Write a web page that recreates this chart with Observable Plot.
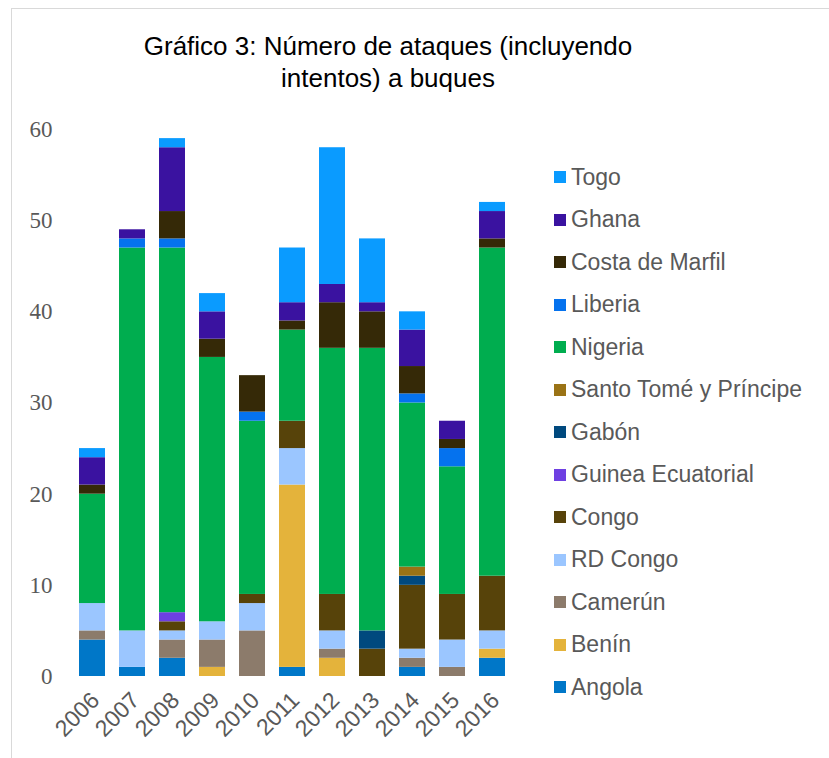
<!DOCTYPE html>
<html>
<head>
<meta charset="utf-8">
<script src="https://cdn.jsdelivr.net/npm/d3@7"></script>
<script src="https://cdn.jsdelivr.net/npm/@observablehq/plot@0.6"></script>
<style>
  html, body { margin: 0; padding: 0; background: #fff; }
  #wrap { position: relative; width: 829px; height: 758px; overflow: hidden; background: #fff; }
  #frame { position: absolute; left: 11px; top: 8px; right: -10px; bottom: -10px; border-left: 1.5px solid #D9D9D9; border-top: 1.5px solid #D9D9D9; }
  #title { position: absolute; left: 0; width: 776px; top: 30px; text-align: center; font-family: "Liberation Sans", Arial, sans-serif; font-size: 26px; line-height: 32px; color: #000; white-space: nowrap; }
  #chart { position: absolute; left: 0; top: 0; }
  #legend { position: absolute; left: 554px; top: 0; font-family: "Liberation Sans", Arial, sans-serif; font-size: 23px; color: #595959; }
  .item { position: absolute; left: 0; height: 30px; display: flex; align-items: center; white-space: nowrap; }
  .sw { width: 12px; height: 12px; margin-right: 5px; flex: none; }
</style>
</head>
<body>
<div id="wrap">
  <div id="frame"></div>
  <div id="title">Gráfico 3: Número de ataques (incluyendo<br>intentos) a buques</div>
  <div id="chart"></div>
  <div id="legend"></div>
</div>
<script>
const years = ["2006","2007","2008","2009","2010","2011","2012","2013","2014","2015","2016"];
const countries = ["Angola","Benín","Camerún","RD Congo","Congo","Guinea Ecuatorial","Gabón","Santo Tomé y Príncipe","Nigeria","Liberia","Costa de Marfil","Ghana","Togo"];
const colors = ["#0077C8","#E4B33B","#8C7B6B","#9BC6FF","#57430A","#6E40E2","#00497E","#9A7315","#00AD4F","#0572EE","#352907","#3A12A0","#0A9BFF"];

const angola   = [4,1,2,0,0,1,0,0,1,0,2];
const benin    = [0,0,0,1,0,20,2,0,0,0,1];
const camerun  = [1,0,2,3,5,0,1,0,1,1,0];
const rdCongo  = [3,4,1,2,3,4,2,0,1,3,2];
const congo    = [0,0,1,0,1,3,4,3,7,5,6];
const guineaEc = [0,0,1,0,0,0,0,0,0,0,0];
const gabon    = [0,0,0,0,0,0,0,2,1,0,0];
const santoTome= [0,0,0,0,0,0,0,0,1,0,0];
const nigeria  = [12,42,40,29,19,10,27,31,18,14,36];
const liberia  = [0,1,1,0,1,0,0,0,1,2,0];
const costaMarfil = [1,0,3,2,4,1,5,4,3,1,1];
const ghana    = [3,1,7,3,0,2,2,1,4,2,3];
const togo     = [1,0,1,2,0,6,15,7,2,0,1];
const yTicks = [0,10,20,30,40,50,60];

const series = [angola,benin,camerun,rdCongo,congo,guineaEc,gabon,santoTome,nigeria,liberia,costaMarfil,ghana,togo];
const data = [];
countries.forEach((c, i) => {
  years.forEach((y, j) => data.push({year: y, country: c, value: series[i][j]}));
});

const chart = Plot.plot({
  width: 829,
  height: 758,
  marginLeft: 72,
  marginRight: 317,
  marginTop: 129,
  marginBottom: 82,
  style: {background: "transparent", overflow: "visible"},
  x: {domain: years, paddingInner: 0.35, paddingOuter: 0.175, label: null},
  y: {domain: [0, 60], label: null},
  color: {domain: countries, range: colors},
  marks: [
    Plot.gridY(yTicks, {stroke: "#D9D9D9", strokeOpacity: 1, strokeWidth: 1.5, x1: 72, x2: 515}),
    Plot.barY(data, {x: "year", y: "value", fill: "country", order: null}),
    Plot.axisY(yTicks, {tickSize: 0, tickPadding: 20, fontSize: 23, fontFamily: "Liberation Serif, Times New Roman, serif", fill: "#595959", label: null}),
    Plot.axisX({tickSize: 0, tickRotate: -45, tickPadding: 20, dx: 3, fontSize: 23, fontFamily: "Liberation Sans, Arial, sans-serif", fill: "#595959", label: null})
  ]
});
document.getElementById("chart").appendChild(chart);

const legend = document.getElementById("legend");
const legendOrder = countries.slice().reverse();
legendOrder.forEach((c, i) => {
  const item = document.createElement("div");
  item.className = "item";
  item.style.top = (177 + 42.5 * i - 15) + "px";
  const sw = document.createElement("div");
  sw.className = "sw";
  sw.style.background = colors[countries.indexOf(c)];
  const tx = document.createElement("span");
  tx.textContent = c;
  item.appendChild(sw);
  item.appendChild(tx);
  legend.appendChild(item);
});
</script>
</body>
</html>
